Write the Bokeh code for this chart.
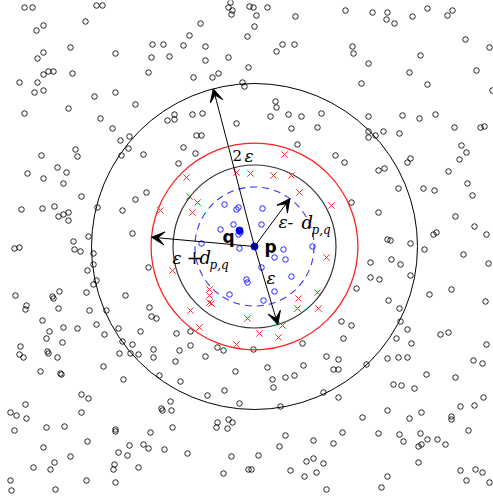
import math

from bokeh.core.properties import value
from bokeh.embed import file_html
from bokeh.models import Arrow, Range1d, VeeHead
from bokeh.plotting import figure
from bokeh.resources import INLINE

W, H = 493, 500

# core point p, its neighbour q and the radius epsilon
P = (254, 246)
Q = (239, 230)
EPS = 81.5
D_PQ = math.hypot(P[0] - Q[0], P[1] - Q[1])

# background points, grouped by quadrant
pts_nw = [
    (24, 7), (32, 7), (96, 5), (102, 5), (43, 25), (36, 30), (85, 21), (200, 23),
    (230, 2), (228, 7), (232, 10), (231, 14), (189, 35), (247, 36), (152, 44),
    (163, 44), (183, 45), (205, 46), (70, 47), (43, 52), (115, 53), (37, 58),
    (151, 57), (169, 56), (205, 60), (228, 57), (248, 67), (43, 74), (48, 71),
    (53, 71), (72, 73), (148, 72), (218, 73), (212, 77), (193, 77), (19, 82),
    (37, 82), (34, 92), (43, 90), (94, 96), (115, 92), (242, 82), (244, 86),
    (135, 104), (68, 108), (24, 113), (174, 114), (192, 114), (202, 113),
    (100, 118), (167, 120), (174, 119), (236, 123), (112, 128), (120, 140),
    (129, 136), (196, 135), (201, 135), (183, 147), (75, 149), (77, 156),
    (128, 148), (41, 155), (121, 155), (143, 154), (195, 153), (178, 163),
    (57, 167), (66, 172), (27, 173), (43, 178), (63, 183), (146, 192), (81, 196),
    (135, 199), (21, 209), (42, 208), (54, 206), (97, 207), (122, 210), (58, 216),
    (63, 214), (68, 212), (68, 220), (132, 233), (88, 236), (73, 241), (14, 248),
    (19, 247), (74, 249),
]
pts_ne = [
    (249, 6), (253, 7), (256, 15), (267, 7), (295, 16), (345, 10), (372, 12),
    (387, 12), (386, 19), (394, 23), (412, 16), (427, 8), (447, 15), (452, 10),
    (254, 26), (276, 51), (282, 44), (294, 44), (352, 46), (353, 53), (368, 63),
    (420, 55), (465, 39), (489, 47), (409, 72), (476, 70), (361, 83), (427, 84),
    (492, 90), (275, 101), (276, 107), (270, 116), (288, 114), (301, 116),
    (321, 113), (368, 116), (402, 115), (419, 118), (435, 114), (291, 128),
    (317, 127), (368, 131), (368, 137), (375, 135), (383, 131), (399, 133),
    (454, 127), (480, 127), (484, 126), (297, 144), (461, 145), (466, 152),
    (459, 159), (335, 155), (344, 162), (407, 162), (410, 158), (378, 170),
    (384, 168), (448, 171), (467, 183), (398, 188), (423, 188), (434, 190),
    (472, 195), (351, 202), (378, 212), (455, 216), (474, 226), (486, 234),
    (433, 234), (436, 232), (387, 239), (390, 240), (410, 243), (424, 249),
]
pts_sw = [
    (80, 251), (15, 295), (52, 296), (53, 298), (59, 291), (26, 305), (25, 309),
    (58, 308), (86, 292), (89, 310), (125, 295), (96, 280), (93, 284), (87, 270),
    (93, 264), (93, 253), (148, 267), (42, 320), (63, 327), (77, 328), (96, 324),
    (106, 310), (149, 307), (151, 316), (156, 318), (49, 331), (46, 338),
    (62, 342), (104, 334), (118, 328), (140, 331), (176, 333), (190, 331),
    (20, 346), (19, 354), (23, 357), (47, 351), (48, 353), (57, 357), (122, 341),
    (132, 344), (119, 353), (130, 353), (138, 354), (153, 349), (153, 357),
    (179, 350), (190, 345), (217, 347), (223, 350), (205, 356), (175, 361),
    (103, 366), (40, 371), (60, 373), (61, 374), (159, 375), (123, 379),
    (180, 381), (235, 371), (224, 390), (207, 395), (81, 394), (88, 398),
    (170, 401), (239, 403), (25, 404), (10, 412), (16, 415), (26, 418), (81, 412),
    (161, 408), (162, 410), (171, 410), (14, 430), (46, 427), (64, 426),
    (115, 429), (115, 431), (172, 427), (217, 422), (228, 419), (232, 422),
    (216, 427), (227, 428), (150, 432), (87, 441), (43, 447), (129, 445),
    (127, 455), (143, 444), (148, 448), (118, 452), (164, 449), (187, 453),
    (70, 456), (231, 456), (54, 462), (33, 467), (50, 469), (114, 464),
    (113, 469), (138, 467), (223, 473), (10, 480), (11, 490), (86, 480),
    (55, 489), (115, 482),
]
pts_se = [
    (370, 262), (391, 259), (400, 264), (463, 254), (488, 263), (370, 277),
    (379, 279), (410, 275), (356, 288), (451, 289), (429, 294), (388, 300),
    (485, 301), (399, 308), (341, 321), (351, 325), (400, 321), (407, 329),
    (343, 338), (396, 338), (411, 343), (440, 334), (448, 332), (486, 344),
    (302, 343), (253, 349), (326, 356), (338, 359), (387, 358), (398, 357),
    (407, 357), (473, 360), (482, 363), (303, 365), (366, 364), (333, 369),
    (338, 369), (267, 367), (285, 377), (294, 375), (272, 379), (273, 387),
    (426, 374), (455, 377), (393, 384), (401, 385), (414, 388), (323, 392),
    (338, 397), (483, 397), (460, 406), (474, 405), (280, 406), (387, 410),
    (421, 412), (362, 417), (409, 418), (451, 416), (451, 419), (468, 430),
    (342, 432), (378, 433), (399, 434), (420, 433), (285, 435), (313, 440),
    (333, 443), (403, 441), (427, 439), (437, 439), (445, 444), (421, 444),
    (418, 446), (279, 446), (258, 455), (306, 461), (313, 458), (323, 463),
    (418, 462), (248, 469), (251, 469), (290, 470), (316, 472), (460, 470),
    (475, 469), (482, 472), (304, 476), (387, 476), (466, 480), (489, 482),
    (326, 489), (381, 487),
]

# points within eps - d(p,q) of p
pts_inner = [
    (224, 204), (236, 209), (238, 207), (262, 208), (220, 229), (233, 224),
    (238, 234), (240, 232), (261, 224), (201, 243), (239, 248), (312, 246),
    (283, 249), (285, 259), (274, 257), (261, 267), (291, 276), (246, 279),
    (247, 282), (274, 291), (229, 294), (263, 300),
]

# points in the ring that need a check
pts_ring = [
    (284, 154), (236, 172), (250, 173), (273, 175), (291, 175), (186, 177),
    (299, 192), (189, 196), (197, 202), (192, 212), (160, 210), (331, 205),
    (326, 257), (172, 270), (209, 289), (209, 295), (209, 302), (211, 303),
    (190, 310), (298, 298), (317, 292), (297, 308), (318, 308), (199, 327),
    (247, 318), (282, 325), (259, 333), (278, 337), (236, 344),
]

# arrow directions from p (dx, dy) and the radius each one reaches
arrow_dirs = {
    "2eps": ((-41, -157), 2 * EPS),
    "eps": ((23, 77), EPS),
    "eps_minus": ((34, -46), EPS - D_PQ),
    "eps_plus": ((-100, -9), EPS + D_PQ),
}

p = figure(
    width=W, height=H,
    x_range=Range1d(0, W), y_range=Range1d(H, 0),
    output_backend="svg", toolbar_location=None,
    x_axis_location=None, y_axis_location=None,
    min_border=0, background_fill_color="white", border_fill_color="white",
)
p.grid.visible = False
p.outline_line_color = None

background = pts_nw + pts_ne + pts_sw + pts_se
p.scatter([a for a, _ in background], [b for _, b in background],
          marker="circle", size=5.5, fill_color=None,
          line_color="black", line_width=1, line_alpha=0.85)

# the four circles around p
p.circle(x=[P[0]], y=[P[1]], radius=2 * EPS, fill_color=None,
         line_color="black", line_width=1)
p.circle(x=[P[0]], y=[P[1]], radius=EPS + D_PQ, fill_color=None,
         line_color="#ff2020", line_width=1.3)
p.circle(x=[P[0]], y=[P[1]], radius=EPS, fill_color=None,
         line_color="#333333", line_width=1.2)
p.circle(x=[P[0]], y=[P[1]], radius=EPS - D_PQ, fill_color=None,
         line_color="#3333ff", line_width=1.1, line_dash="7 5")

p.scatter([a for a, _ in pts_ring], [b for _, b in pts_ring],
          marker="x", size=9, line_color="#ff3030", line_width=1)
p.scatter([a for a, _ in pts_inner], [b for _, b in pts_inner],
          marker="circle", size=5.5, fill_color=None,
          line_color="#2222ff", line_width=1)

for (dx, dy), r in arrow_dirs.values():
    n = math.hypot(dx, dy)
    p.add_layout(Arrow(
        x_start=P[0], y_start=P[1],
        x_end=P[0] + dx / n * r, y_end=P[1] + dy / n * r,
        line_color="black", line_width=1,
        end=VeeHead(size=13, fill_color="black", line_color="black", line_width=1),
    ))

p.scatter([P[0], Q[0]], [P[1], Q[1]], marker="circle", size=7,
          fill_color="#0000ee", line_color="#0000ee")

serif = value("DejaVu Serif")
sans = value("DejaVu Sans")


def put(x, y, s, size, font=serif, style="normal", align="left"):
    p.text(x=[x], y=[y], text=[s], text_font=font, text_font_size=f"{size}px",
           text_font_style=style, text_align=align, text_baseline="middle",
           text_color="black")


put(232, 155, "2", 15)
put(244, 155, "ε", 17, style="italic")

put(278, 221, "ε-", 17, style="italic")
put(301, 222, "d", 18, style="italic")
put(311, 229, "p,q", 12, style="italic")

put(172, 257, "ε", 17, style="italic")
put(186, 256, "+", 19)
put(199, 257, "d", 18, style="italic")
put(209, 264, "p,q", 12, style="italic")

put(266, 277, "ε", 17, style="italic")

put(222, 236, "q", 17, font=sans, style="bold")
put(264, 246, "p", 17, font=sans, style="bold")

open("out.html", "w").write(file_html(p, INLINE))
